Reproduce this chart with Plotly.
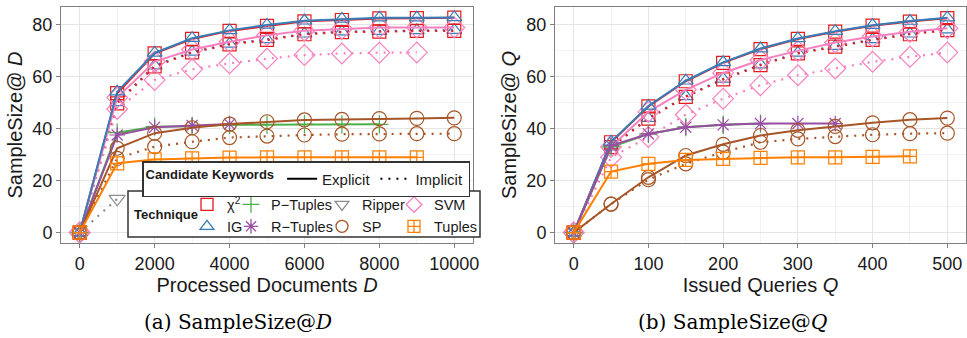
import plotly.graph_objects as go

# ---------------- data ----------------
D = [0, 1000, 2000, 3000, 4000, 5000, 6000, 7000, 8000, 9000, 10000]
Q = [0, 50, 100, 150, 200, 250, 300, 350, 400, 450, 500]

chi_exp_D = [0, 53.7, 69.0, 74.6, 77.7, 79.6, 81.4, 81.9, 82.5, 82.6, 82.8]
ig_exp_D = [0, 54.3, 69.2, 74.9, 77.9, 80.0, 81.6, 82.3, 82.8, 82.8, 82.9]
chi_imp_D = [0, 49.8, 64.0, 69.4, 72.5, 74.2, 76.4, 77.2, 77.4, 77.7, 77.7]
ig_imp_D = [0, 50.2, 64.3, 69.6, 72.7, 74.4, 76.6, 77.4, 77.6, 77.9, 78.0]
svm_exp_D = [0, 52.0, 65.9, 70.5, 73.5, 76.0, 77.8, 78.5, 79.0, 79.0, 79.0]
svm_imp_D = [0, 47.6, 58.8, 62.9, 65.2, 67.0, 68.4, 69.0, 69.3, 69.4]
pt_exp_D = [0, 38.5, 40.8, 41.0, 41.5, 41.6, 41.7, 41.7, 41.7]
rt_exp_D = [0, 37.6, 40.6, 41.3, 41.8]
ripper_imp_D = [0, 13.0]
sp_exp_D = [0, 32.5, 38.3, 40.4, 41.8, 42.7, 43.4, 43.6, 43.9, 44.0, 44.2]
sp_imp_D = [0, 28.6, 33.1, 35.0, 36.6, 37.2, 37.6, 37.9, 38.0, 38.1, 38.1]
tu_exp_D = [0, 26.7, 28.2, 28.6, 28.9, 29.0, 29.0, 29.0, 29.0, 29.0]

chi_exp_Q = [0, 34.8, 48.6, 58.3, 65.4, 70.7, 74.6, 77.4, 79.7, 81.3, 82.6]
ig_exp_Q = [0, 35.0, 48.8, 58.5, 65.6, 70.9, 74.8, 77.6, 79.9, 81.5, 82.8]
chi_imp_Q = [0, 32.9, 43.9, 52.3, 59.0, 64.5, 69.0, 71.6, 74.2, 76.4, 78.0]
ig_imp_Q = [0, 33.1, 44.1, 52.5, 59.2, 64.7, 69.2, 71.8, 74.4, 76.6, 78.2]
svm_exp_Q = [0, 33.0, 46.5, 55.0, 61.5, 66.5, 70.0, 73.2, 75.5, 77.4, 78.7]
svm_imp_Q = [0, 29.0, 36.8, 45.4, 51.6, 56.8, 60.6, 63.2, 65.8, 67.7, 69.4]
pt_exp_Q = [0, 33.0, 38.0, 40.6, 41.5, 42.0]
rt_exp_Q = [0, 33.5, 38.0, 40.6, 41.5, 42.0, 42.0, 42.0]
ripper_imp_Q = [0]
sp_exp_Q = [0, 11.0, 21.3, 29.7, 34.0, 37.4, 39.4, 40.9, 42.3, 43.5, 44.1]
sp_imp_Q = [0, 11.0, 20.4, 26.5, 31.0, 34.8, 36.1, 37.0, 37.7, 38.1, 38.3]
tu_exp_Q = [0, 23.5, 26.5, 28.0, 28.4, 28.8, 29.0, 29.0, 29.2, 29.4]

D_ticks = [0, 2000, 4000, 6000, 8000, 10000]
D_ticktext = ["0", "2000", "4000", "6000", "8000", "10000"]
Q_ticks = [0, 100, 200, 300, 400, 500]
Y_ticks = [0, 20, 40, 60, 80]

techniques = ["χ<sup>2</sup>", "IG", "P−Tuples", "R−Tuples", "Ripper", "SP", "SVM", "Tuples"]
colors = ["#E41A1C", "#377EB8", "#4DAF4A", "#984EA3", "#8C8C8C", "#A65628", "#F781BF", "#FF7F00"]
symbols = ["square-open", "triangle-up-open", "cross-thin", "asterisk", "triangle-down-open",
           "circle-open", "diamond-open", "square-cross-open"]
sizes = [13, 13, 13, 13, 14, 14, 16, 13]
# each legend column holds two techniques
legend_cols = ["legend", "legend", "legend3", "legend3", "legend4", "legend4", "legend5", "legend5"]

FONT = "Liberation Sans, Arial, sans-serif"
SERIF = "DejaVu Serif, Liberation Serif, serif"
DOT = "2px,6px"
W, H = 967, 338

fig = go.Figure()


def add(xs, ys, k, dotted, xa, ya):
    fig.add_trace(go.Scatter(
        x=xs[:len(ys)], y=ys, mode="lines+markers", xaxis=xa, yaxis=ya,
        showlegend=False, hoverinfo="skip",
        line=dict(color=colors[k], width=2 if not dotted else 2.2, dash=DOT if dotted else "solid"),
        marker=dict(symbol=symbols[k], size=sizes[k], color=colors[k],
                    line=dict(color=colors[k], width=1.2)),
    ))


left = [
    (ig_imp_D, 1, True), (chi_imp_D, 0, True), (svm_imp_D, 6, True), (sp_imp_D, 5, True),
    (ripper_imp_D, 4, True),
    (chi_exp_D, 0, False), (svm_exp_D, 6, False), (ig_exp_D, 1, False),
    (pt_exp_D, 2, False), (rt_exp_D, 3, False), (sp_exp_D, 5, False), (tu_exp_D, 7, False),
]
right = [
    (ig_imp_Q, 1, True), (chi_imp_Q, 0, True), (svm_imp_Q, 6, True), (sp_imp_Q, 5, True),
    (ripper_imp_Q, 4, True),
    (chi_exp_Q, 0, False), (svm_exp_Q, 6, False), (ig_exp_Q, 1, False),
    (pt_exp_Q, 2, False), (rt_exp_Q, 3, False), (sp_exp_Q, 5, False), (tu_exp_Q, 7, False),
]
for ys, k, dt in left:
    add(D, ys, k, dt, "x", "y")
for ys, k, dt in right:
    add(Q, ys, k, dt, "x2", "y2")

# legend-only entries: Technique (four legend columns)
for k, name in enumerate(techniques):
    fig.add_trace(go.Scatter(
        x=[None], y=[None], mode="markers", name=name, legend=legend_cols[k],
        xaxis="x", yaxis="y",
        marker=dict(symbol=symbols[k], size=12, color=colors[k], line=dict(color=colors[k], width=1.3)),
    ))
# legend-only entries: Candidate Keywords
for name, dash in [("Explicit", "solid"), ("Implicit", DOT)]:
    fig.add_trace(go.Scatter(
        x=[None], y=[None], mode="lines", name=name, legend="legend2", xaxis="x", yaxis="y",
        line=dict(color="black", width=2, dash=dash),
    ))

axis_common = dict(
    showline=True, linecolor="#7F7F7F", linewidth=1, mirror=True,
    showgrid=True, gridcolor="#E5E5E5", gridwidth=1,
    ticks="outside", ticklen=4, tickcolor="#7F7F7F", tickwidth=1,
    tickfont=dict(family=FONT, size=18, color="#1A1A1A"),
    zeroline=False, automargin=False,
)
minor = dict(showgrid=True, gridcolor="#F3F3F3", gridwidth=1, ticks="")
title_font = dict(size=20, family=FONT, color="#1A1A1A")

# technique legend box geometry (pixels)
L0, BOX_T, BOX_B = 128, 191, 237
col_x = [L0 + 59, L0 + 103, L0 + 194, L0 + 266]
BOX_R = L0 + 352
LEG_TOP = 188.5

col_legend = dict(
    orientation="v", xanchor="left", yanchor="top", bgcolor="rgba(0,0,0,0)", borderwidth=0,
    font=dict(family=FONT, size=14.5, color="#1A1A1A"), itemwidth=30, tracegroupgap=0,
)

fig.update_layout(
    width=W, height=H,
    margin=dict(l=0, r=0, t=0, b=0),
    paper_bgcolor="white", plot_bgcolor="white",
    font=dict(family=FONT, color="#1A1A1A"),
    xaxis=dict(axis_common, domain=[61 / W, 473 / W], range=[-500, 10500],
               tickvals=D_ticks, ticktext=D_ticktext,
               minor=dict(minor, tickvals=[1000, 3000, 5000, 7000, 9000]),
               title=dict(text="Processed Documents <i>D</i>", font=title_font, standoff=2),
               anchor="y"),
    yaxis=dict(axis_common, domain=[1 - 243 / H, 1 - 7 / H], range=[-4.0, 86.9],
               tickvals=Y_ticks,
               minor=dict(minor, tickvals=[10, 30, 50, 70]),
               title=dict(text="SampleSize@ <i>D</i>", font=title_font, standoff=4),
               anchor="x"),
    xaxis2=dict(axis_common, domain=[555 / W, 966 / W], range=[-25, 525],
                tickvals=Q_ticks,
                minor=dict(minor, tickvals=[50, 150, 250, 350, 450]),
                title=dict(text="Issued Queries <i>Q</i>", font=title_font, standoff=2),
                anchor="y2"),
    yaxis2=dict(axis_common, domain=[1 - 243 / H, 1 - 7 / H], range=[-4.0, 86.9],
                tickvals=Y_ticks,
                minor=dict(minor, tickvals=[10, 30, 50, 70]),
                title=dict(text="SampleSize@ <i>Q</i>", font=title_font, standoff=4),
                anchor="x2"),
    legend=dict(col_legend, x=col_x[0] / W, y=1 - LEG_TOP / H),
    legend3=dict(col_legend, x=col_x[1] / W, y=1 - LEG_TOP / H),
    legend4=dict(col_legend, x=col_x[2] / W, y=1 - LEG_TOP / H),
    legend5=dict(col_legend, x=col_x[3] / W, y=1 - LEG_TOP / H),
    legend2=dict(
        x=142 / W, y=1 - 161 / H, xanchor="left", yanchor="top",
        orientation="h", bgcolor="white", bordercolor="#333333", borderwidth=1.5,
        font=dict(family=FONT, size=15, color="#1A1A1A"),
        title=dict(text="<b>Candidate Keywords</b>", side="left", font=dict(family=FONT, size=13)),
        itemwidth=30,
    ),
    shapes=[
        dict(type="rect", xref="paper", yref="paper", layer="above",
             x0=L0 / W, x1=BOX_R / W, y0=1 - BOX_B / H, y1=1 - BOX_T / H,
             fillcolor="white", line=dict(color="#333333", width=1.5)),
    ],
    annotations=[
        dict(text="<b>Technique</b>", x=(L0 + 4) / W, y=1 - (BOX_T + BOX_B) / 2 / H,
             xref="paper", yref="paper", xanchor="left", yanchor="middle", showarrow=False,
             font=dict(family=FONT, size=13, color="#1A1A1A")),
        dict(text="(a) SampleSize@<i>D</i>", x=238 / W, y=1 - 322 / H, xref="paper", yref="paper",
             xanchor="center", yanchor="middle",
             showarrow=False, font=dict(family=SERIF, size=20, color="black")),
        dict(text="(b) SampleSize@<i>Q</i>", x=732 / W, y=1 - 322 / H, xref="paper", yref="paper",
             xanchor="center", yanchor="middle",
             showarrow=False, font=dict(family=SERIF, size=20, color="black")),
    ],
)

fig.write_html("out.html")
